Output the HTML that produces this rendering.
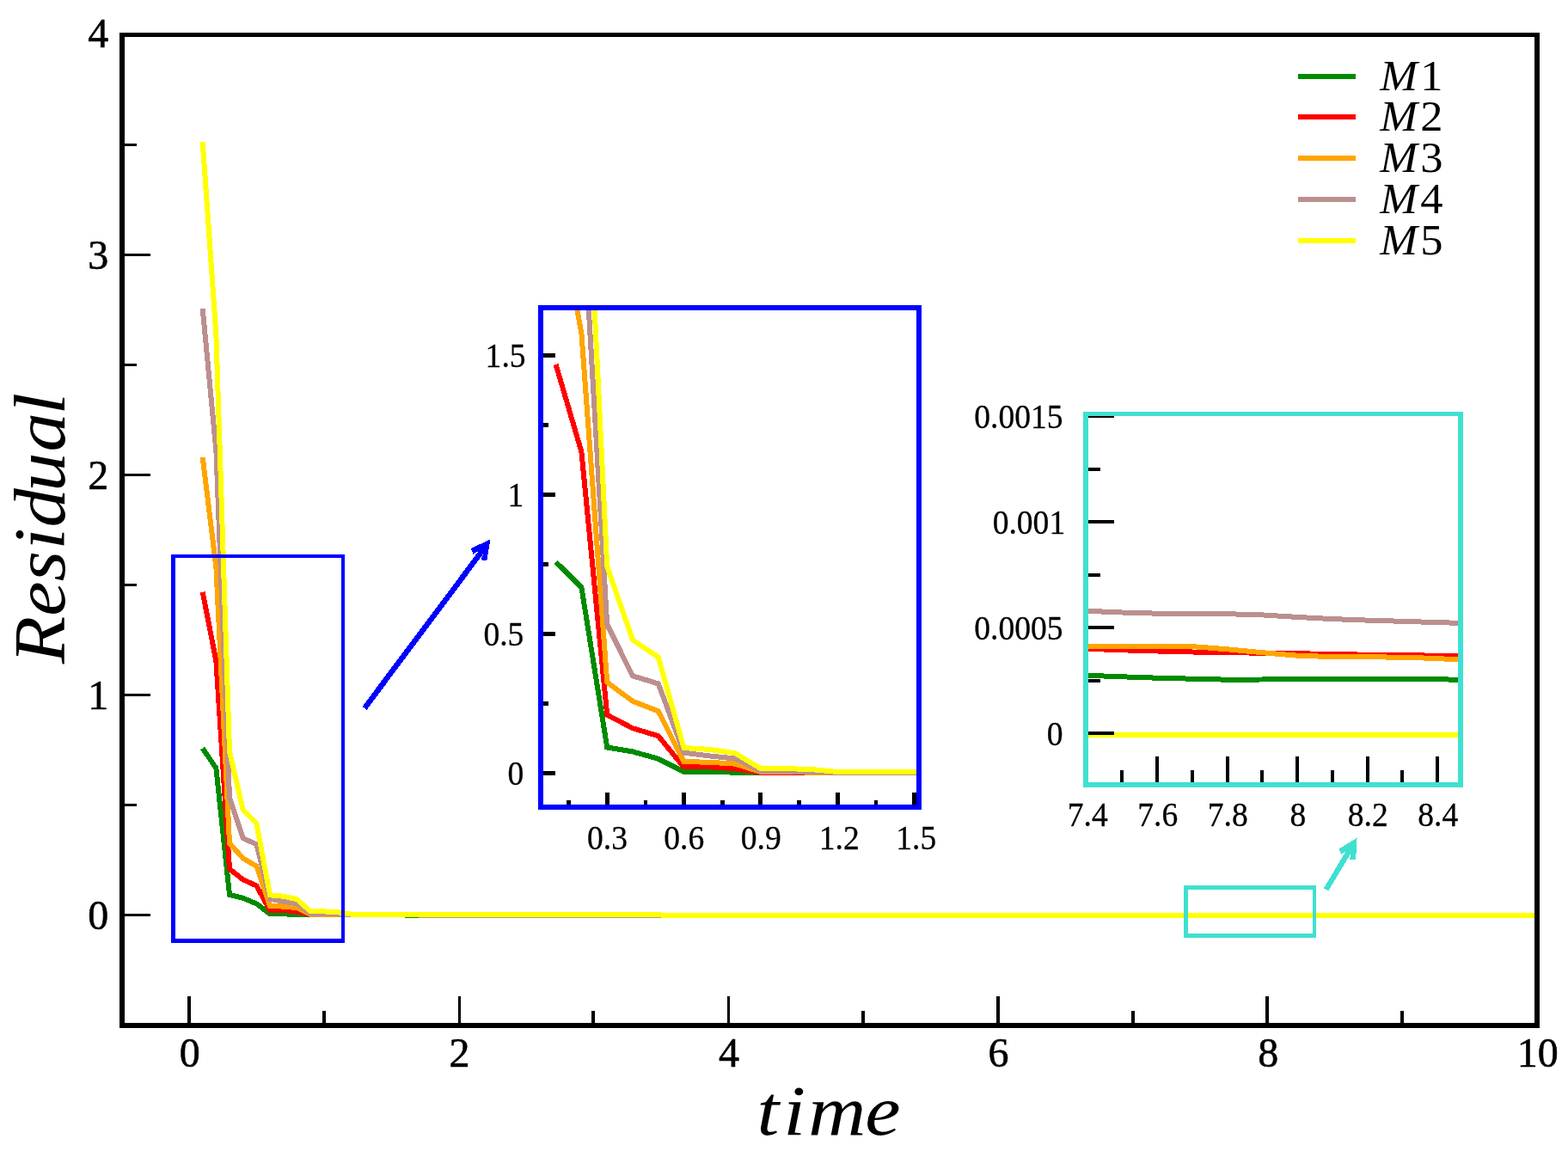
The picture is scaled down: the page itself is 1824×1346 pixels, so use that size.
<!DOCTYPE html>
<html lang="en">
<head>
<meta charset="utf-8">
<title>Residual vs time</title>
<style>
html,body{margin:0;padding:0;background:#fff;}
body{width:1824px;height:1346px;overflow:hidden;}
svg{display:block;}
text{font-family:"Liberation Serif","DejaVu Serif",serif;fill:#000;}
.it{font-style:italic;}
.ax{font-size:48px;}
.in{font-size:38.5px;}
.lg{font-size:51px;}
</style>
</head>
<body>
<svg width="1824" height="1346" viewBox="0 0 1824 1346">
<title>Residual versus time for M1, M2, M3, M4 and M5</title>
<rect x="0" y="0" width="1824" height="1346" fill="#fff"/>
<defs>
<clipPath id="cm"><rect x="142" y="40.5" width="1646" height="1152.5"/></clipPath>
<clipPath id="c1"><rect x="629" y="358" width="440" height="581"/></clipPath>
<clipPath id="c2"><rect x="1263" y="482" width="436" height="431"/></clipPath>
</defs>
<g id="main-data">
<polyline clip-path="url(#cm)" points="235.7,870.5 251.4,893.7 267.0,1040.9 282.7,1044.8 298.4,1051.4 314.1,1063.2 329.8,1063.3 345.4,1064.0 361.1,1064.2 376.8,1064.2 392.5,1064.4 408.2,1064.4 423.8,1064.4 439.5,1064.4 455.2,1064.4 470.9,1064.5 486.6,1064.5 502.2,1064.5 517.9,1064.5 533.6,1064.5 549.3,1064.5 565.0,1064.5 580.6,1064.5 596.3,1064.5 612.0,1064.5 627.7,1064.5 643.4,1064.5 659.0,1064.5 674.7,1064.5 690.4,1064.5 706.1,1064.5 721.8,1064.5 737.4,1064.5 753.1,1064.5 768.8,1064.5 784.5,1064.5 800.2,1064.5 815.8,1064.5 831.5,1064.5 847.2,1064.5 862.9,1064.5 878.6,1064.5 894.2,1064.5 909.9,1064.5 925.6,1064.5 941.3,1064.5 957.0,1064.5 972.6,1064.5 988.3,1064.5 1004.0,1064.5 1019.7,1064.5 1035.4,1064.5 1051.0,1064.5 1066.7,1064.5 1082.4,1064.5 1098.1,1064.5 1113.8,1064.5 1129.4,1064.5 1145.1,1064.5 1160.8,1064.5 1176.5,1064.5 1192.2,1064.5 1207.8,1064.5 1223.5,1064.5 1239.2,1064.5 1254.9,1064.5 1270.6,1064.5 1286.2,1064.5 1301.9,1064.5 1317.6,1064.5 1333.3,1064.5 1349.0,1064.5 1364.6,1064.5 1380.3,1064.5 1396.0,1064.5 1411.7,1064.5 1427.4,1064.5 1443.0,1064.5 1458.7,1064.5 1474.4,1064.5 1490.1,1064.5 1505.8,1064.5 1521.4,1064.5 1537.1,1064.5 1552.8,1064.5 1568.5,1064.5 1584.2,1064.5 1599.8,1064.5 1615.5,1064.5 1631.2,1064.5 1646.9,1064.5 1662.6,1064.5 1678.2,1064.5 1693.9,1064.5 1709.6,1064.5 1725.3,1064.5 1741.0,1064.5 1756.6,1064.5 1772.3,1064.5 1788.0,1064.5" fill="none" stroke="#008b00" stroke-width="6" stroke-linejoin="miter" stroke-linecap="butt" shape-rendering="crispEdges"/>
<polyline clip-path="url(#cm)" points="235.7,688.7 251.4,769.1 267.0,1011.0 282.7,1023.3 298.4,1030.5 314.1,1059.1 329.8,1058.9 345.4,1060.7 361.1,1064.0 376.8,1064.0 392.5,1064.2 408.2,1064.2 423.8,1064.2 439.5,1064.2 455.2,1064.2 470.9,1064.5 486.6,1064.5 502.2,1064.5 517.9,1064.5 533.6,1064.5 549.3,1064.5 565.0,1064.5 580.6,1064.5 596.3,1064.5 612.0,1064.5 627.7,1064.5 643.4,1064.5 659.0,1064.5 674.7,1064.5 690.4,1064.5 706.1,1064.5 721.8,1064.5 737.4,1064.5 753.1,1064.5 768.8,1064.5 784.5,1064.5 800.2,1064.5 815.8,1064.5 831.5,1064.5 847.2,1064.5 862.9,1064.5 878.6,1064.5 894.2,1064.5 909.9,1064.5 925.6,1064.5 941.3,1064.5 957.0,1064.5 972.6,1064.5 988.3,1064.5 1004.0,1064.5 1019.7,1064.5 1035.4,1064.5 1051.0,1064.5 1066.7,1064.5 1082.4,1064.5 1098.1,1064.5 1113.8,1064.5 1129.4,1064.5 1145.1,1064.5 1160.8,1064.5 1176.5,1064.5 1192.2,1064.5 1207.8,1064.5 1223.5,1064.5 1239.2,1064.5 1254.9,1064.5 1270.6,1064.5 1286.2,1064.5 1301.9,1064.5 1317.6,1064.5 1333.3,1064.5 1349.0,1064.5 1364.6,1064.5 1380.3,1064.5 1396.0,1064.5 1411.7,1064.5 1427.4,1064.5 1443.0,1064.5 1458.7,1064.5 1474.4,1064.5 1490.1,1064.5 1505.8,1064.5 1521.4,1064.5 1537.1,1064.5 1552.8,1064.5 1568.5,1064.5 1584.2,1064.5 1599.8,1064.5 1615.5,1064.5 1631.2,1064.5 1646.9,1064.5 1662.6,1064.5 1678.2,1064.5 1693.9,1064.5 1709.6,1064.5 1725.3,1064.5 1741.0,1064.5 1756.6,1064.5 1772.3,1064.5 1788.0,1064.5" fill="none" stroke="#ff0000" stroke-width="6" stroke-linejoin="miter" stroke-linecap="butt" shape-rendering="crispEdges"/>
<polyline clip-path="url(#cm)" points="235.7,532.0 251.4,660.0 267.0,981.0 282.7,998.5 298.4,1007.7 314.1,1054.0 329.8,1054.6 345.4,1056.1 361.1,1063.5 376.8,1063.5 392.5,1064.0 408.2,1064.2 423.8,1064.2 439.5,1064.2 455.2,1064.2 470.9,1064.5 486.6,1064.5 502.2,1064.5 517.9,1064.5 533.6,1064.5 549.3,1064.5 565.0,1064.5 580.6,1064.5 596.3,1064.5 612.0,1064.5 627.7,1064.5 643.4,1064.5 659.0,1064.5 674.7,1064.5 690.4,1064.5 706.1,1064.5 721.8,1064.5 737.4,1064.5 753.1,1064.5 768.8,1064.5 784.5,1064.5 800.2,1064.5 815.8,1064.5 831.5,1064.5 847.2,1064.5 862.9,1064.5 878.6,1064.5 894.2,1064.5 909.9,1064.5 925.6,1064.5 941.3,1064.5 957.0,1064.5 972.6,1064.5 988.3,1064.5 1004.0,1064.5 1019.7,1064.5 1035.4,1064.5 1051.0,1064.5 1066.7,1064.5 1082.4,1064.5 1098.1,1064.5 1113.8,1064.5 1129.4,1064.5 1145.1,1064.5 1160.8,1064.5 1176.5,1064.5 1192.2,1064.5 1207.8,1064.5 1223.5,1064.5 1239.2,1064.5 1254.9,1064.5 1270.6,1064.5 1286.2,1064.5 1301.9,1064.5 1317.6,1064.5 1333.3,1064.5 1349.0,1064.5 1364.6,1064.5 1380.3,1064.5 1396.0,1064.5 1411.7,1064.5 1427.4,1064.5 1443.0,1064.5 1458.7,1064.5 1474.4,1064.5 1490.1,1064.5 1505.8,1064.5 1521.4,1064.5 1537.1,1064.5 1552.8,1064.5 1568.5,1064.5 1584.2,1064.5 1599.8,1064.5 1615.5,1064.5 1631.2,1064.5 1646.9,1064.5 1662.6,1064.5 1678.2,1064.5 1693.9,1064.5 1709.6,1064.5 1725.3,1064.5 1741.0,1064.5 1756.6,1064.5 1772.3,1064.5 1788.0,1064.5" fill="none" stroke="#ffa500" stroke-width="6" stroke-linejoin="miter" stroke-linecap="butt" shape-rendering="crispEdges"/>
<polyline clip-path="url(#cm)" points="235.7,359.0 251.4,524.3 267.0,927.8 282.7,975.2 298.4,982.3 314.1,1045.8 329.8,1048.8 345.4,1051.2 361.1,1062.7 376.8,1063.0 392.5,1063.5 408.2,1064.0 423.8,1064.0 439.5,1064.0 455.2,1064.2 470.9,1064.5 486.6,1064.5 502.2,1064.5 517.9,1064.5 533.6,1064.5 549.3,1064.5 565.0,1064.5 580.6,1064.5 596.3,1064.5 612.0,1064.5 627.7,1064.5 643.4,1064.5 659.0,1064.5 674.7,1064.5 690.4,1064.5 706.1,1064.5 721.8,1064.5 737.4,1064.5 753.1,1064.5 768.8,1064.5 784.5,1064.5 800.2,1064.5 815.8,1064.5 831.5,1064.5 847.2,1064.5 862.9,1064.5 878.6,1064.5 894.2,1064.5 909.9,1064.5 925.6,1064.5 941.3,1064.5 957.0,1064.5 972.6,1064.5 988.3,1064.5 1004.0,1064.5 1019.7,1064.5 1035.4,1064.5 1051.0,1064.5 1066.7,1064.5 1082.4,1064.5 1098.1,1064.5 1113.8,1064.5 1129.4,1064.5 1145.1,1064.5 1160.8,1064.5 1176.5,1064.5 1192.2,1064.5 1207.8,1064.5 1223.5,1064.5 1239.2,1064.5 1254.9,1064.5 1270.6,1064.5 1286.2,1064.5 1301.9,1064.5 1317.6,1064.5 1333.3,1064.5 1349.0,1064.5 1364.6,1064.5 1380.3,1064.5 1396.0,1064.5 1411.7,1064.5 1427.4,1064.5 1443.0,1064.5 1458.7,1064.5 1474.4,1064.5 1490.1,1064.5 1505.8,1064.5 1521.4,1064.5 1537.1,1064.5 1552.8,1064.5 1568.5,1064.5 1584.2,1064.5 1599.8,1064.5 1615.5,1064.5 1631.2,1064.5 1646.9,1064.5 1662.6,1064.5 1678.2,1064.5 1693.9,1064.5 1709.6,1064.5 1725.3,1064.5 1741.0,1064.5 1756.6,1064.5 1772.3,1064.5 1788.0,1064.5" fill="none" stroke="#bc8f8f" stroke-width="6" stroke-linejoin="miter" stroke-linecap="butt" shape-rendering="crispEdges"/>
<polyline clip-path="url(#cm)" points="235.7,164.9 251.4,389.2 267.0,874.5 282.7,942.1 298.4,958.0 314.1,1041.3 329.8,1042.8 345.4,1046.2 361.1,1060.4 376.8,1060.4 392.5,1061.2 408.2,1063.5 423.8,1063.5 439.5,1063.5 455.2,1063.7 470.9,1063.7 486.6,1063.7 502.2,1063.7 517.9,1063.7 533.6,1063.7 549.3,1063.7 565.0,1063.7 580.6,1063.7 596.3,1063.7 612.0,1063.7 627.7,1063.7 643.4,1063.7 659.0,1063.7 674.7,1063.7 690.4,1063.7 706.1,1063.7 721.8,1063.7 737.4,1063.7 753.1,1063.7 768.8,1064.5 784.5,1064.5 800.2,1064.5 815.8,1064.5 831.5,1064.5 847.2,1064.5 862.9,1064.5 878.6,1064.5 894.2,1064.5 909.9,1064.5 925.6,1064.5 941.3,1064.5 957.0,1064.5 972.6,1064.5 988.3,1064.5 1004.0,1064.5 1019.7,1064.5 1035.4,1064.5 1051.0,1064.5 1066.7,1064.5 1082.4,1064.5 1098.1,1064.5 1113.8,1064.5 1129.4,1064.5 1145.1,1064.5 1160.8,1064.5 1176.5,1064.5 1192.2,1064.5 1207.8,1064.5 1223.5,1064.5 1239.2,1064.5 1254.9,1064.5 1270.6,1064.5 1286.2,1064.5 1301.9,1064.5 1317.6,1064.5 1333.3,1064.5 1349.0,1064.5 1364.6,1064.5 1380.3,1064.5 1396.0,1064.5 1411.7,1064.5 1427.4,1064.5 1443.0,1064.5 1458.7,1064.5 1474.4,1064.5 1490.1,1064.5 1505.8,1064.5 1521.4,1064.5 1537.1,1064.5 1552.8,1064.5 1568.5,1064.5 1584.2,1064.5 1599.8,1064.5 1615.5,1064.5 1631.2,1064.5 1646.9,1064.5 1662.6,1064.5 1678.2,1064.5 1693.9,1064.5 1709.6,1064.5 1725.3,1064.5 1741.0,1064.5 1756.6,1064.5 1772.3,1064.5 1788.0,1064.5" fill="none" stroke="#ffff00" stroke-width="6" stroke-linejoin="miter" stroke-linecap="butt" shape-rendering="crispEdges"/>
</g>
<g id="main-ticks">
<rect x="218.0" y="1159.0" width="4" height="32.0" fill="#000" shape-rendering="crispEdges"/>
<rect x="374.8" y="1176.0" width="4" height="15.0" fill="#000" shape-rendering="crispEdges"/>
<rect x="532.6" y="1159.0" width="3" height="32.0" fill="#000" shape-rendering="crispEdges"/>
<rect x="688.4" y="1176.0" width="4" height="15.0" fill="#000" shape-rendering="crispEdges"/>
<rect x="846.2" y="1159.0" width="3" height="32.0" fill="#000" shape-rendering="crispEdges"/>
<rect x="1002.0" y="1176.0" width="4" height="15.0" fill="#000" shape-rendering="crispEdges"/>
<rect x="1158.8" y="1159.0" width="4" height="32.0" fill="#000" shape-rendering="crispEdges"/>
<rect x="1315.6" y="1176.0" width="4" height="15.0" fill="#000" shape-rendering="crispEdges"/>
<rect x="1472.4" y="1159.0" width="4" height="32.0" fill="#000" shape-rendering="crispEdges"/>
<rect x="1629.2" y="1176.0" width="4" height="15.0" fill="#000" shape-rendering="crispEdges"/>
<rect x="144.0" y="1063.0" width="31.0" height="3" fill="#000" shape-rendering="crispEdges"/>
<rect x="144.0" y="935.0" width="15.0" height="3" fill="#000" shape-rendering="crispEdges"/>
<rect x="144.0" y="807.0" width="31.0" height="3" fill="#000" shape-rendering="crispEdges"/>
<rect x="144.0" y="679.0" width="15.0" height="3" fill="#000" shape-rendering="crispEdges"/>
<rect x="144.0" y="551.0" width="31.0" height="3" fill="#000" shape-rendering="crispEdges"/>
<rect x="144.0" y="423.0" width="15.0" height="3" fill="#000" shape-rendering="crispEdges"/>
<rect x="144.0" y="295.0" width="31.0" height="3" fill="#000" shape-rendering="crispEdges"/>
<rect x="144.0" y="167.0" width="15.0" height="3" fill="#000" shape-rendering="crispEdges"/>
</g>
<g id="main-frame" shape-rendering="crispEdges">
<rect x="139" y="38" width="1652" height="5" fill="#000"/>
<rect x="139" y="1190" width="1652" height="6" fill="#000"/>
<rect x="139" y="38" width="6" height="1158" fill="#000"/>
<rect x="1785" y="38" width="6" height="1158" fill="#000"/>
</g>
<g id="main-labels" class="ax">
<text transform="translate(220.8,1240.8) scale(1.0,1)" font-size="48" text-anchor="middle" stroke="#000" stroke-width="0.6" stroke-linejoin="round">0</text>
<text transform="translate(534.4,1240.8) scale(1.0,1)" font-size="48" text-anchor="middle" stroke="#000" stroke-width="0.6" stroke-linejoin="round">2</text>
<text transform="translate(848.0,1240.8) scale(1.0,1)" font-size="48" text-anchor="middle" stroke="#000" stroke-width="0.6" stroke-linejoin="round">4</text>
<text transform="translate(1161.6,1240.8) scale(1.0,1)" font-size="48" text-anchor="middle" stroke="#000" stroke-width="0.6" stroke-linejoin="round">6</text>
<text transform="translate(1475.2,1240.8) scale(1.0,1)" font-size="48" text-anchor="middle" stroke="#000" stroke-width="0.6" stroke-linejoin="round">8</text>
<text transform="translate(1788.8,1240.8) scale(1.0,1)" font-size="48" text-anchor="middle" stroke="#000" stroke-width="0.6" stroke-linejoin="round">10</text>
<text transform="translate(126.2,1080.5) scale(1.0,1)" font-size="48" text-anchor="end" stroke="#000" stroke-width="0.6" stroke-linejoin="round">0</text>
<text transform="translate(126.2,824.5) scale(1.0,1)" font-size="48" text-anchor="end" stroke="#000" stroke-width="0.6" stroke-linejoin="round">1</text>
<text transform="translate(126.2,568.5) scale(1.0,1)" font-size="48" text-anchor="end" stroke="#000" stroke-width="0.6" stroke-linejoin="round">2</text>
<text transform="translate(126.2,312.5) scale(1.0,1)" font-size="48" text-anchor="end" stroke="#000" stroke-width="0.6" stroke-linejoin="round">3</text>
<text transform="translate(126.2,55.0) scale(1.0,1)" font-size="48" text-anchor="end" stroke="#000" stroke-width="0.6" stroke-linejoin="round">4</text>
</g>
<text class="it" transform="translate(0,1320.3) scale(1.12,1)" font-size="83" x="786.1 813.6 839.5 898.4" y="0">time</text>
<text class="it" transform="translate(74.6,774.1) rotate(-90) scale(1.08,1)" font-size="84" x="1.7 53.0 90.7 124.6 148.8 187.4 230.2 270.2" y="0">Residual</text>
<g id="legend">
<rect x="1510.0" y="86.0" width="67.0" height="6" fill="#008b00" shape-rendering="crispEdges"/>
<text class="lg it" transform="translate(1605.2,105.3) scale(1.03,1)">M<tspan font-style="normal" dx="3.3">1</tspan></text>
<rect x="1510.0" y="133.0" width="67.0" height="6" fill="#ff0000" shape-rendering="crispEdges"/>
<text class="lg it" transform="translate(1605.2,152.4) scale(1.03,1)">M<tspan font-style="normal" dx="3.3">2</tspan></text>
<rect x="1510.0" y="181.0" width="67.0" height="6" fill="#ffa500" shape-rendering="crispEdges"/>
<text class="lg it" transform="translate(1605.2,199.6) scale(1.03,1)">M<tspan font-style="normal" dx="3.3">3</tspan></text>
<rect x="1510.0" y="229.0" width="67.0" height="6" fill="#bc8f8f" shape-rendering="crispEdges"/>
<text class="lg it" transform="translate(1605.2,248.2) scale(1.03,1)">M<tspan font-style="normal" dx="3.3">4</tspan></text>
<rect x="1510.0" y="277.0" width="67.0" height="6" fill="#ffff00" shape-rendering="crispEdges"/>
<text class="lg it" transform="translate(1605.2,296.2) scale(1.03,1)">M<tspan font-style="normal" dx="3.3">5</tspan></text>
</g>
<g fill="#0000ff" shape-rendering="crispEdges"><rect x="199" y="645" width="202" height="4"/><rect x="199" y="1092" width="202" height="5"/><rect x="199" y="645" width="5" height="452"/><rect x="397" y="645" width="4" height="452"/></g>
<polygon points="570.4,627.3 547.7,638.2 550.4,644.6 556.6,641.3 421.5,821.9 426.6,825.8 561.7,645.2 559.4,651.3 566.3,652.1" fill="#0000ff" shape-rendering="crispEdges"/>
<g fill="#40e0d0" shape-rendering="crispEdges"><rect x="1377" y="1030" width="154" height="5"/><rect x="1377" y="1086" width="154" height="5"/><rect x="1377" y="1030" width="5" height="61"/><rect x="1527" y="1030" width="4" height="61"/></g>
<polygon points="1578.6,974.6 1557.2,987.9 1560.6,993.9 1565.9,989.7 1539.9,1033.3 1545.3,1036.5 1571.4,993.0 1570.2,999.6 1577.1,999.8" fill="#40e0d0" shape-rendering="crispEdges"/>
<g id="inset1">
<polyline clip-path="url(#c1)" points="646.6,653.9 676.4,683.3 706.2,869.5 736.0,874.4 765.8,882.8 795.5,897.7 825.3,897.8 855.1,898.7 884.9,899.0 914.7,899.0 944.4,899.1 974.2,899.1 1004.0,899.1 1033.8,899.1 1063.6,899.1 1093.3,899.3" fill="none" stroke="#008b00" stroke-width="6" stroke-linejoin="miter" stroke-linecap="butt" shape-rendering="crispEdges"/>
<polyline clip-path="url(#c1)" points="646.6,424.0 676.4,525.6 706.2,831.6 736.0,847.2 765.8,856.2 795.5,892.5 825.3,892.2 855.1,894.4 884.9,898.7 914.7,898.7 944.4,899.0 974.2,899.0 1004.0,899.0 1033.8,899.0 1063.6,899.0 1093.3,899.3" fill="none" stroke="#ff0000" stroke-width="6" stroke-linejoin="miter" stroke-linecap="butt" shape-rendering="crispEdges"/>
<polyline clip-path="url(#c1)" points="646.6,225.8 676.4,387.7 706.2,793.7 736.0,815.8 765.8,827.4 795.5,886.0 825.3,886.8 855.1,888.6 884.9,898.0 914.7,898.0 944.4,898.7 974.2,899.0 1004.0,899.0 1033.8,899.0 1063.6,899.0 1093.3,899.3" fill="none" stroke="#ffa500" stroke-width="6" stroke-linejoin="miter" stroke-linecap="butt" shape-rendering="crispEdges"/>
<polyline clip-path="url(#c1)" points="646.6,6.9 676.4,216.1 706.2,726.4 736.0,786.3 765.8,795.4 795.5,875.7 825.3,879.4 855.1,882.5 884.9,897.0 914.7,897.4 944.4,898.0 974.2,898.7 1004.0,898.7 1033.8,898.7 1063.6,899.0 1093.3,899.3" fill="none" stroke="#bc8f8f" stroke-width="6" stroke-linejoin="miter" stroke-linecap="butt" shape-rendering="crispEdges"/>
<polyline clip-path="url(#c1)" points="646.6,-238.5 676.4,45.1 706.2,659.0 736.0,744.5 765.8,764.6 795.5,870.0 825.3,871.9 855.1,876.2 884.9,894.1 914.7,894.1 944.4,895.1 974.2,898.0 1004.0,898.0 1033.8,898.0 1063.6,898.3 1093.3,898.3" fill="none" stroke="#ffff00" stroke-width="6" stroke-linejoin="miter" stroke-linecap="butt" shape-rendering="crispEdges"/>
<rect x="659.3" y="931.0" width="4.5" height="6.0" fill="#000" shape-rendering="crispEdges"/>
<rect x="703.7" y="922.0" width="5" height="15.0" fill="#000" shape-rendering="crispEdges"/>
<rect x="748.6" y="931.0" width="4.5" height="6.0" fill="#000" shape-rendering="crispEdges"/>
<rect x="793.0" y="922.0" width="5" height="15.0" fill="#000" shape-rendering="crispEdges"/>
<rect x="838.0" y="931.0" width="4.5" height="6.0" fill="#000" shape-rendering="crispEdges"/>
<rect x="882.4" y="922.0" width="5" height="15.0" fill="#000" shape-rendering="crispEdges"/>
<rect x="927.3" y="931.0" width="4.5" height="6.0" fill="#000" shape-rendering="crispEdges"/>
<rect x="971.7" y="922.0" width="5" height="15.0" fill="#000" shape-rendering="crispEdges"/>
<rect x="1016.6" y="931.0" width="4.5" height="6.0" fill="#000" shape-rendering="crispEdges"/>
<rect x="1061.1" y="922.0" width="5" height="15.0" fill="#000" shape-rendering="crispEdges"/>
<rect x="631.0" y="896.8" width="15.0" height="5" fill="#000" shape-rendering="crispEdges"/>
<rect x="631.0" y="815.8" width="7.0" height="5" fill="#000" shape-rendering="crispEdges"/>
<rect x="631.0" y="734.9" width="15.0" height="5" fill="#000" shape-rendering="crispEdges"/>
<rect x="631.0" y="653.9" width="7.0" height="5" fill="#000" shape-rendering="crispEdges"/>
<rect x="631.0" y="573.0" width="15.0" height="5" fill="#000" shape-rendering="crispEdges"/>
<rect x="631.0" y="492.0" width="7.0" height="5" fill="#000" shape-rendering="crispEdges"/>
<rect x="631.0" y="411.1" width="15.0" height="5" fill="#000" shape-rendering="crispEdges"/>
<g fill="#0000ff" shape-rendering="crispEdges"><rect x="626" y="355" width="446" height="6"/><rect x="626" y="936" width="446" height="6"/><rect x="626" y="355" width="6" height="587"/><rect x="1066" y="355" width="6" height="587"/></g>
<g class="in">
<text transform="translate(706.5,987.6) scale(0.94,1)" font-size="40.0" text-anchor="middle" stroke="#000" stroke-width="0.3" stroke-linejoin="round">0.3</text>
<text transform="translate(795.8,987.6) scale(0.94,1)" font-size="40.0" text-anchor="middle" stroke="#000" stroke-width="0.3" stroke-linejoin="round">0.6</text>
<text transform="translate(885.2,987.6) scale(0.94,1)" font-size="40.0" text-anchor="middle" stroke="#000" stroke-width="0.3" stroke-linejoin="round">0.9</text>
<text transform="translate(976.3,987.6) scale(0.94,1)" font-size="40.0" text-anchor="middle" stroke="#000" stroke-width="0.3" stroke-linejoin="round">1.2</text>
<text transform="translate(1065.7,987.6) scale(0.94,1)" font-size="40.0" text-anchor="middle" stroke="#000" stroke-width="0.3" stroke-linejoin="round">1.5</text>
<text transform="translate(609.4,912.6) scale(0.94,1)" font-size="40.0" text-anchor="end" stroke="#000" stroke-width="0.3" stroke-linejoin="round">0</text>
<text transform="translate(609.4,750.7) scale(0.94,1)" font-size="40.0" text-anchor="end" stroke="#000" stroke-width="0.3" stroke-linejoin="round">0.5</text>
<text transform="translate(609.4,588.8) scale(0.94,1)" font-size="40.0" text-anchor="end" stroke="#000" stroke-width="0.3" stroke-linejoin="round">1</text>
<text transform="translate(611.6,426.9) scale(0.94,1)" font-size="40.0" text-anchor="end" stroke="#000" stroke-width="0.3" stroke-linejoin="round">1.5</text>
</g>
</g>
<g id="inset2">
<polyline clip-path="url(#c2)" points="1223.8,785.3 1264.5,785.8 1305.2,787.3 1346.0,788.7 1386.8,789.7 1427.5,790.7 1468.2,790.5 1509.0,789.7 1549.8,789.7 1590.5,789.7 1631.3,789.7 1672.0,790.2 1712.8,791.2" fill="none" stroke="#008b00" stroke-width="6" stroke-linejoin="miter" stroke-linecap="butt" shape-rendering="crispEdges"/>
<polyline clip-path="url(#c2)" points="1223.8,754.3 1264.5,754.8 1305.2,756.3 1346.0,757.5 1386.8,758.5 1427.5,759.2 1468.2,759.7 1509.0,760.2 1549.8,761.0 1590.5,761.7 1631.3,762.2 1672.0,762.7 1712.8,763.7" fill="none" stroke="#ff0000" stroke-width="6" stroke-linejoin="miter" stroke-linecap="butt" shape-rendering="crispEdges"/>
<polyline clip-path="url(#c2)" points="1223.8,751.8 1264.5,752.1 1305.2,752.3 1346.0,752.3 1386.8,752.1 1427.5,755.3 1468.2,759.2 1509.0,762.7 1549.8,764.1 1590.5,764.4 1631.3,764.6 1672.0,766.1 1712.8,768.1" fill="none" stroke="#ffa500" stroke-width="6" stroke-linejoin="miter" stroke-linecap="butt" shape-rendering="crispEdges"/>
<polyline clip-path="url(#c2)" points="1223.8,710.0 1264.5,710.8 1305.2,712.5 1346.0,713.7 1386.8,714.2 1427.5,714.2 1468.2,715.4 1509.0,717.9 1549.8,720.1 1590.5,721.6 1631.3,722.8 1672.0,724.1 1712.8,725.3" fill="none" stroke="#bc8f8f" stroke-width="6" stroke-linejoin="miter" stroke-linecap="butt" shape-rendering="crispEdges"/>
<polyline clip-path="url(#c2)" points="1223.8,854.7 1264.5,854.7 1305.2,854.7 1346.0,854.7 1386.8,854.7 1427.5,854.7 1468.2,854.7 1509.0,854.7 1549.8,854.7 1590.5,854.7 1631.3,854.7 1672.0,854.7 1712.8,854.7" fill="none" stroke="#ffff00" stroke-width="6" stroke-linejoin="miter" stroke-linecap="butt" shape-rendering="crispEdges"/>
<rect x="1303.2" y="896.0" width="4" height="15.0" fill="#000" shape-rendering="crispEdges"/>
<rect x="1344.0" y="880.0" width="4" height="31.0" fill="#000" shape-rendering="crispEdges"/>
<rect x="1384.8" y="896.0" width="4" height="15.0" fill="#000" shape-rendering="crispEdges"/>
<rect x="1425.5" y="880.0" width="4" height="31.0" fill="#000" shape-rendering="crispEdges"/>
<rect x="1466.2" y="896.0" width="4" height="15.0" fill="#000" shape-rendering="crispEdges"/>
<rect x="1507.0" y="880.0" width="4" height="31.0" fill="#000" shape-rendering="crispEdges"/>
<rect x="1547.8" y="896.0" width="4" height="15.0" fill="#000" shape-rendering="crispEdges"/>
<rect x="1588.5" y="880.0" width="4" height="31.0" fill="#000" shape-rendering="crispEdges"/>
<rect x="1629.3" y="896.0" width="4" height="15.0" fill="#000" shape-rendering="crispEdges"/>
<rect x="1670.0" y="880.0" width="4" height="31.0" fill="#000" shape-rendering="crispEdges"/>
<rect x="1265.0" y="851.2" width="31.0" height="4" fill="#000" shape-rendering="crispEdges"/>
<rect x="1265.0" y="789.7" width="15.0" height="4" fill="#000" shape-rendering="crispEdges"/>
<rect x="1265.0" y="728.2" width="31.0" height="4" fill="#000" shape-rendering="crispEdges"/>
<rect x="1265.0" y="666.7" width="15.0" height="4" fill="#000" shape-rendering="crispEdges"/>
<rect x="1265.0" y="605.2" width="31.0" height="4" fill="#000" shape-rendering="crispEdges"/>
<rect x="1265.0" y="543.7" width="15.0" height="4" fill="#000" shape-rendering="crispEdges"/>
<rect x="1265.0" y="482.2" width="31.0" height="4" fill="#000" shape-rendering="crispEdges"/>
<g fill="#40e0d0" shape-rendering="crispEdges"><rect x="1260" y="479" width="442" height="5"/><rect x="1260" y="910" width="442" height="6"/><rect x="1260" y="479" width="6" height="437"/><rect x="1696" y="479" width="6" height="437"/></g>
<g class="in">
<text transform="translate(1265.3,961.4) scale(0.94,1)" font-size="40.0" text-anchor="middle" stroke="#000" stroke-width="0.3" stroke-linejoin="round">7.4</text>
<text transform="translate(1346.8,961.4) scale(0.94,1)" font-size="40.0" text-anchor="middle" stroke="#000" stroke-width="0.3" stroke-linejoin="round">7.6</text>
<text transform="translate(1428.3,961.4) scale(0.94,1)" font-size="40.0" text-anchor="middle" stroke="#000" stroke-width="0.3" stroke-linejoin="round">7.8</text>
<text transform="translate(1509.8,961.4) scale(0.94,1)" font-size="40.0" text-anchor="middle" stroke="#000" stroke-width="0.3" stroke-linejoin="round">8</text>
<text transform="translate(1591.3,961.4) scale(0.94,1)" font-size="40.0" text-anchor="middle" stroke="#000" stroke-width="0.3" stroke-linejoin="round">8.2</text>
<text transform="translate(1672.8,961.4) scale(0.94,1)" font-size="40.0" text-anchor="middle" stroke="#000" stroke-width="0.3" stroke-linejoin="round">8.4</text>
<text transform="translate(1236.6,866.6) scale(0.94,1)" font-size="40.0" text-anchor="end" stroke="#000" stroke-width="0.3" stroke-linejoin="round">0</text>
<text transform="translate(1236.6,743.6) scale(0.94,1)" font-size="40.0" text-anchor="end" stroke="#000" stroke-width="0.3" stroke-linejoin="round">0.0005</text>
<text transform="translate(1239.2,620.6) scale(0.94,1)" font-size="40.0" text-anchor="end" stroke="#000" stroke-width="0.3" stroke-linejoin="round">0.001</text>
<text transform="translate(1236.6,497.6) scale(0.94,1)" font-size="40.0" text-anchor="end" stroke="#000" stroke-width="0.3" stroke-linejoin="round">0.0015</text>
</g>
</g>
</svg>
</body>
</html>
